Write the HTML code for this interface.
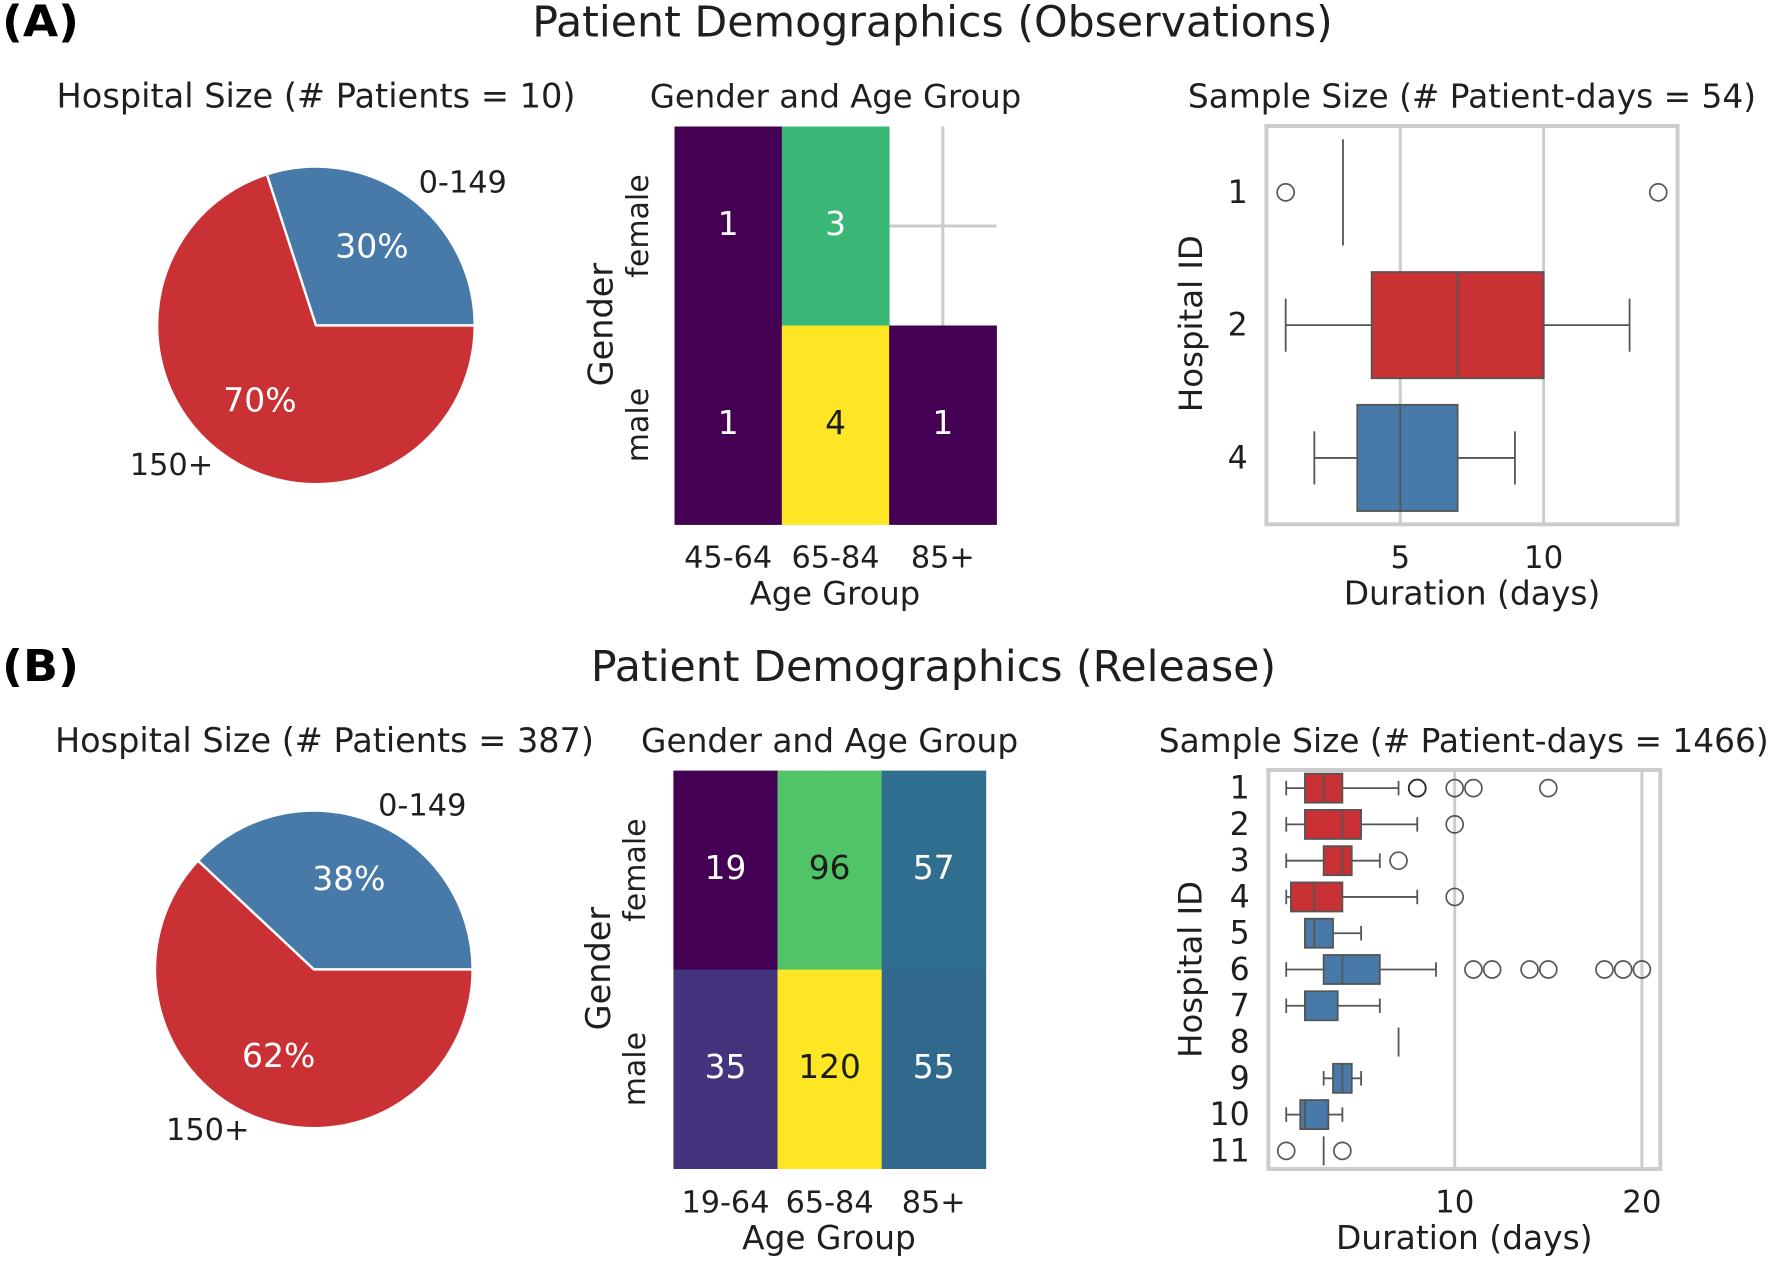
<!DOCTYPE html>
<html lang="en">
<head>
<meta charset="utf-8">
<title>Patient Demographics</title>
<style>
html,body{margin:0;padding:0;background:#fff;}
svg{display:block;}
text{font-family:"DejaVu Sans","Liberation Sans",sans-serif;fill:#1f1f1f;}
.main{font-size:42.7px;}
.bold{font-size:44px;font-weight:bold;fill:#000;}
</style>
</head>
<body>
<svg id="figure" xmlns="http://www.w3.org/2000/svg" width="1772" height="1262" viewBox="0 0 1772 1262">
  <rect x="0" y="0" width="1772" height="1262" fill="#ffffff"/>
  <text class="bold" x="2" y="36.5" textLength="77" lengthAdjust="spacingAndGlyphs">(A)</text>
  <text class="main" x="932.5" y="36.5" text-anchor="middle">Patient Demographics (Observations)</text>
  <text style="font-size:33.6px" x="316" y="107.5" text-anchor="middle">Hospital Size (# Patients = 10)</text>
  <text style="font-size:32.3px" x="835.6" y="107.5" text-anchor="middle">Gender and Age Group</text>
  <text style="font-size:32.8px" x="1472" y="107.5" text-anchor="middle">Sample Size (# Patient-days = 54)</text>
  <text style="font-size:32.2px" x="835" y="604.6" text-anchor="middle">Age Group</text>
  <text style="font-size:33.5px" transform="translate(612.5 324.6) rotate(-90)" text-anchor="middle">Gender</text>
  <text style="font-size:32.9px" x="1472" y="604.6" text-anchor="middle">Duration (days)</text>
  <text style="font-size:32.4px" transform="translate(1202 323.6) rotate(-90)" text-anchor="middle">Hospital ID</text>

  <text class="bold" x="2" y="681" textLength="77" lengthAdjust="spacingAndGlyphs">(B)</text>
  <text class="main" x="933.5" y="681" text-anchor="middle">Patient Demographics (Release)</text>
  <text style="font-size:33.5px" x="324.5" y="752" text-anchor="middle">Hospital Size (# Patients = 387)</text>
  <text style="font-size:32.8px" x="829.6" y="752" text-anchor="middle">Gender and Age Group</text>
  <text style="font-size:32.8px" x="1463.7" y="752" text-anchor="middle">Sample Size (# Patient-days = 1466)</text>
  <text style="font-size:32.8px" x="829" y="1249" text-anchor="middle">Age Group</text>
  <text style="font-size:33.5px" transform="translate(610 968.6) rotate(-90)" text-anchor="middle">Gender</text>
  <text style="font-size:32.9px" x="1464.3" y="1249" text-anchor="middle">Duration (days)</text>
  <text style="font-size:32.4px" transform="translate(1201.7 969.4) rotate(-90)" text-anchor="middle">Hospital ID</text>
</svg>
<script>
/* ---------- Panel A data ---------- */
var pieLabels = ['0-149', '150+'];
var pieAValues = [30, 70];
var heatAAges = ['45-64', '65-84', '85+'];
var heatGenders = ['female', 'male'];
var heatAFemale = [1, 3, null];
var heatAMale = [1, 4, 1];
var boxAHospitals = ['1', '2', '4'];
var boxASizeGroup = ['150+', '150+', '0-149'];
var boxAWhiskerLow = [3, 1, 2];
var boxAQ1 = [3, 4, 3.5];
var boxAMedian = [3, 7, 5];
var boxAQ3 = [3, 10, 7];
var boxAWhiskerHigh = [3, 13, 9];
var boxAOutliers = [[1, 14], [], []];
var boxATicks = [5, 10];

/* ---------- Panel B data ---------- */
var pieBValues = [38, 62];
var heatBAges = ['19-64', '65-84', '85+'];
var heatBFemale = [19, 96, 57];
var heatBMale = [35, 120, 55];
var boxBHospitals = ['1', '2', '3', '4', '5', '6', '7', '8', '9', '10', '11'];
var boxBSizeGroup = ['150+', '150+', '150+', '150+', '0-149', '0-149', '0-149', '0-149', '0-149', '0-149', '0-149'];
var boxBWhiskerLow = [1, 1, 1, 1, 2, 1, 1, 7, 3, 1, 3];
var boxBQ1 = [2, 2, 3, 1.25, 2, 3, 2, 7, 3.5, 1.75, 3];
var boxBMedian = [3, 4, 4, 2.5, 2.5, 4, 2, 7, 4, 2, 3];
var boxBQ3 = [4, 5, 4.5, 4, 3.5, 6, 3.75, 7, 4.5, 3.25, 3];
var boxBWhiskerHigh = [7, 8, 6, 8, 5, 9, 6, 7, 5, 4, 3];
var boxBOutliers = [[8, 8, 8, 10, 11, 15], [10], [7], [10], [], [11, 12, 14, 15, 18, 19, 20], [], [], [], [], [1, 4]];
var boxBTicks = [10, 20];

/* ---------- Shared style ---------- */
var GROUP_COLOR = {'0-149': '#477aa9', '150+': '#ca3135'};
var GRID = '#cccccc';
var LINE = '#555555';
var VIRIDIS = ['#440154', '#482475', '#414487', '#355f8d', '#2a788e', '#21918c', '#22a884', '#44bf70', '#7ad151', '#bddf26', '#fde725'];
var NS = 'http://www.w3.org/2000/svg';
var svg = document.getElementById('figure');

function make(tag, attrs, parent) {
  var el = document.createElementNS(NS, tag);
  for (var k in attrs) { el.setAttribute(k, attrs[k]); }
  (parent || svg).appendChild(el);
  return el;
}
function group(parent) {
  return make('g', {}, parent);
}
function label(parent, str, x, y, size, anchor, fill, rotate) {
  var attrs = {'text-anchor': anchor};
  if (rotate) { attrs.transform = 'translate(' + x + ' ' + y + ') rotate(' + rotate + ')'; }
  else { attrs.x = x; attrs.y = y; }
  attrs.style = 'font-size:' + size + 'px;' + (fill ? 'fill:' + fill : '');
  var el = make('text', attrs, parent);
  el.textContent = str;
  return el;
}
function linearScale(d0, r0, d1, r1) {
  return function (v) { return r0 + (v - d0) * (r1 - r0) / (d1 - d0); };
}
function bandScale(count, start, end) {
  var step = (end - start) / count;
  var f = function (i) { return start + step * (i + 0.5); };
  f.step = step;
  return f;
}
function hexRgb(h) {
  return [parseInt(h.substr(1, 2), 16), parseInt(h.substr(3, 2), 16), parseInt(h.substr(5, 2), 16)];
}
function viridis(t) {
  var p = Math.max(0, Math.min(1, t)) * (VIRIDIS.length - 1);
  var i = Math.min(Math.floor(p), VIRIDIS.length - 2);
  var a = hexRgb(VIRIDIS[i]), b = hexRgb(VIRIDIS[i + 1]), f = p - i;
  return [0, 1, 2].map(function (c) { return Math.round(a[c] + (b[c] - a[c]) * f); });
}
function luminance(rgb) {
  var c = rgb.map(function (v) { v = v / 255; return v <= 0.03928 ? v / 12.92 : Math.pow((v + 0.055) / 1.055, 2.4); });
  return 0.2126 * c[0] + 0.7152 * c[1] + 0.0722 * c[2];
}

/* ---------- Pie ---------- */
function drawPie(panel, values, cx, cy, r) {
  var g = group();
  
  
  var total = values.reduce(function (a, b) { return a + b; }, 0);
  var angle = 0;
  values.forEach(function (v, i) {
    var next = angle + v / total * 2 * Math.PI;
    var x0 = cx + r * Math.cos(angle), y0 = cy - r * Math.sin(angle);
    var x1 = cx + r * Math.cos(next), y1 = cy - r * Math.sin(next);
    var large = (next - angle) > Math.PI ? 1 : 0;
    var slice = make('path', {
      d: 'M' + cx + ' ' + cy + 'L' + x0 + ' ' + y0 + 'A' + r + ' ' + r + ' 0 ' + large + ' 0 ' + x1 + ' ' + y1 + 'Z',
      fill: GROUP_COLOR[pieLabels[i]], stroke: '#ffffff', 'stroke-width': 2.4, 'stroke-linejoin': 'round'
    }, g);
    
    
    var mid = (angle + next) / 2, cos = Math.cos(mid), sin = Math.sin(mid);
    var pct = label(g, Math.round(v / total * 100) + '%', cx + 0.6 * r * cos, cy - 0.6 * r * sin + 9, 33, 'middle', '#ffffff');
    
    
    var name = label(g, pieLabels[i], cx + 1.1 * r * cos, cy - 1.1 * r * sin + 8.4, 30.4, cos >= 0 ? 'start' : 'end');
    
    
    angle = next;
  });
}

/* ---------- Heatmap ---------- */
function drawHeatmap(panel, ages, rows, left, right, top, bottom, tickY, genderX, colorCeil) {
  var g = group();
  
  
  var xBand = bandScale(ages.length, left, right);
  var yBand = bandScale(heatGenders.length, top, bottom);
  var all = [];
  rows.forEach(function (r) { r.forEach(function (v) { if (v !== null) { all.push(v); } }); });
  var min = Math.min.apply(null, all), max = Math.max.apply(null, all);
  function cellColor(v) {
    return viridis(v === max ? 1 : (v - min) / (Math.max(colorCeil, max) - min));
  }
  ages.forEach(function (a, i) {
    var gl = make('line', {x1: xBand(i), x2: xBand(i), y1: top, y2: bottom, stroke: GRID, 'stroke-width': 3}, g);
    
    
    var tick = label(g, a, xBand(i), tickY, 30.3, 'middle');
    
    
  });
  heatGenders.forEach(function (n, j) {
    var gl = make('line', {x1: left, x2: right, y1: yBand(j), y2: yBand(j), stroke: GRID, 'stroke-width': 3}, g);
    
    
    var tick = label(g, n, genderX, yBand(j), 30, 'middle', null, -90);
    
    
  });
  rows.forEach(function (row, j) {
    row.forEach(function (v, i) {
      if (v === null) { return; }
      var cell = make('rect', {
        x: xBand(i) - xBand.step / 2, y: yBand(j) - yBand.step / 2,
        width: xBand.step + 0.4, height: yBand.step + 0.4,
        fill: 'rgb(' + cellColor(v).join(',') + ')'
      }, g);
      
      
    });
  });
  rows.forEach(function (row, j) {
    row.forEach(function (v, i) {
      if (v === null) { return; }
      var txt = label(g, String(v), xBand(i), yBand(j) + 9, 32.8, 'middle', luminance(cellColor(v)) > 0.408 ? '#1c1c1c' : '#ffffff');
      
      
    });
  });
}

/* ---------- Box plot ---------- */
function drawBoxes(panel, cfg) {
  var g = group();
  
  
  var x = cfg.x;
  var y = bandScale(cfg.ids.length, cfg.top, cfg.bottom);
  var boxH = y.step * 0.8, capH = y.step * 0.4;
  var bg = make('rect', {x: cfg.left, y: cfg.top, width: cfg.right - cfg.left, height: cfg.bottom - cfg.top, fill: '#ffffff'}, g);
  
  
  cfg.ticks.forEach(function (t) {
    var gl = make('line', {x1: x(t), x2: x(t), y1: cfg.top, y2: cfg.bottom, stroke: GRID, 'stroke-width': 3}, g);
    
    
    var tl = label(g, String(t), x(t), cfg.tickY, 30.8, 'middle');
    
    
  });
  cfg.ids.forEach(function (id, i) {
    var cy = y(i);
    var tl = label(g, id, cfg.left - 18.7, cy + 10.5, 31.6, 'end');
    
    
    var box = group(g);
    
    
    function seg(x1, y1, x2, y2, name) {
      var el = make('line', {x1: x1, y1: y1, x2: x2, y2: y2, stroke: LINE, 'stroke-width': 1.8}, box);
      
      
    }
    seg(x(cfg.low[i]), cy, x(cfg.q1[i]), cy, 'whisker-low');
    seg(x(cfg.q3[i]), cy, x(cfg.high[i]), cy, 'whisker-high');
    if (cfg.q3[i] > cfg.q1[i]) {
      seg(x(cfg.low[i]), cy - capH / 2, x(cfg.low[i]), cy + capH / 2, 'cap-low');
      seg(x(cfg.high[i]), cy - capH / 2, x(cfg.high[i]), cy + capH / 2, 'cap-high');
    }
    var rect = make('rect', {
      x: x(cfg.q1[i]), y: cy - boxH / 2, width: x(cfg.q3[i]) - x(cfg.q1[i]), height: boxH,
      fill: GROUP_COLOR[cfg.groups[i]], stroke: LINE, 'stroke-width': 1.8
    }, box);
    
    
    seg(x(cfg.med[i]), cy - boxH / 2, x(cfg.med[i]), cy + boxH / 2, 'median');
    cfg.outliers[i].forEach(function (o) {
      var c = make('circle', {cx: x(o), cy: cy, r: 8.5, fill: 'none', stroke: '#2e2e2e', 'stroke-opacity': 0.8, 'stroke-width': 1.7}, box);
      
      
    });
  });
  var frame = make('rect', {x: cfg.left, y: cfg.top, width: cfg.right - cfg.left, height: cfg.bottom - cfg.top, fill: 'none', stroke: GRID, 'stroke-width': 4}, g);
  
  
}

drawPie('panel-a', pieAValues, 315.9, 325.4, 158.8);
drawPie('panel-b', pieBValues, 313.8, 969.4, 158.8);

drawHeatmap('panel-a', heatAAges, [heatAFemale, heatAMale], 674.5, 996.5, 126.5, 524.5, 567.7, 648.2, 4);
drawHeatmap('panel-b', heatBAges, [heatBFemale, heatBMale], 673.4, 985.8, 770.6, 1168.6, 1212.6, 645, 125);

drawBoxes('panel-a', {
  x: linearScale(5, 1400.3, 10, 1543.6), ids: boxAHospitals, groups: boxASizeGroup,
  low: boxAWhiskerLow, q1: boxAQ1, med: boxAMedian, q3: boxAQ3, high: boxAWhiskerHigh,
  outliers: boxAOutliers, ticks: boxATicks,
  left: 1266.4, right: 1677.5, top: 126, bottom: 524.3, tickY: 568
});
drawBoxes('panel-b', {
  x: linearScale(10, 1454.7, 20, 1641.9), ids: boxBHospitals, groups: boxBSizeGroup,
  low: boxBWhiskerLow, q1: boxBQ1, med: boxBMedian, q3: boxBQ3, high: boxBWhiskerHigh,
  outliers: boxBOutliers, ticks: boxBTicks,
  left: 1268.4, right: 1660.3, top: 770, bottom: 1169, tickY: 1212.6
});
</script>
</body>
</html>
